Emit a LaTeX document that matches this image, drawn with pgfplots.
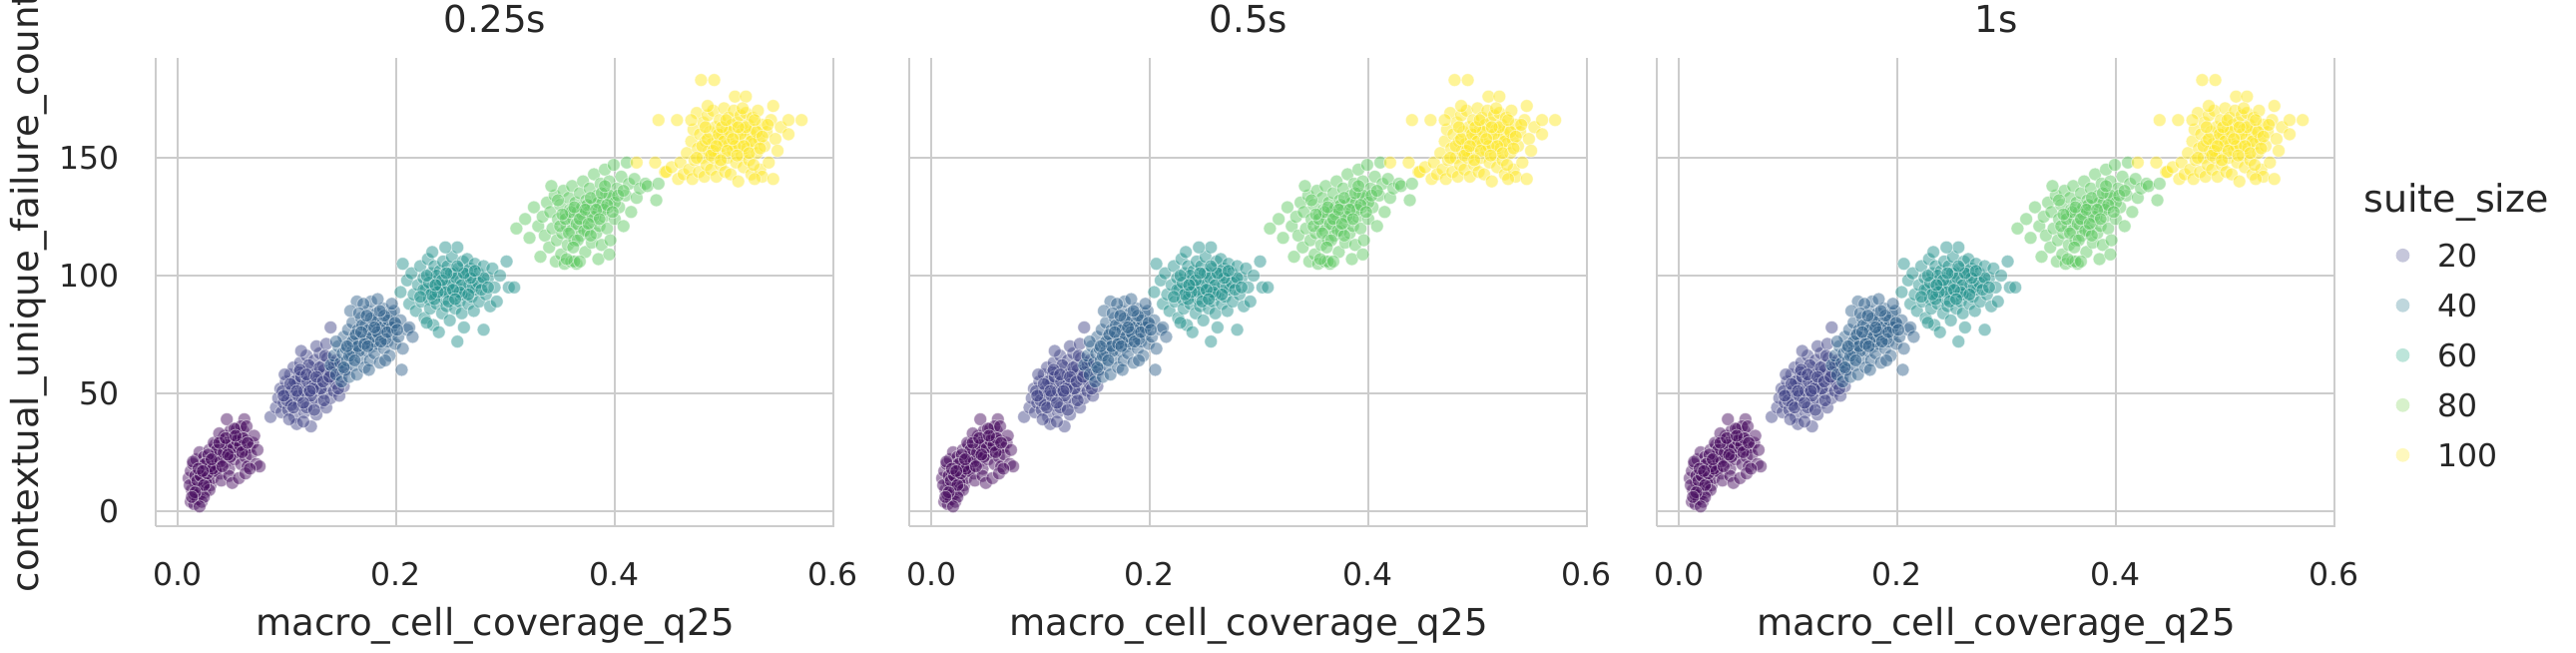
\documentclass[border=0pt]{standalone}
\usepackage{pgfplots}
\pgfplotsset{compat=1.18}
\usepackage{pgfplotstable}
\usepackage{fontspec}
\setmainfont{DejaVu Sans}
\definecolor{txt}{HTML}{262626}
\definecolor{gridc}{HTML}{CCCCCC}
\definecolor{cA}{HTML}{460B5E}
\definecolor{cB}{HTML}{414487}
\definecolor{cC}{HTML}{33638D}
\definecolor{cD}{HTML}{21918C}
\definecolor{cE}{HTML}{5EC962}
\definecolor{cF}{HTML}{FDE725}
\definecolor{lA}{HTML}{414487}
\definecolor{lB}{HTML}{2A788E}
\definecolor{lC}{HTML}{22A884}
\definecolor{lD}{HTML}{7AD151}
\definecolor{lE}{HTML}{FDE725}

\pgfplotstableread{
x y
0.012 4
0.015 3
0.018 5
0.020 7
0.013 9
0.016 12
0.010 14
0.012 17
0.014 20
0.019 16
0.021 10
0.023 13
0.025 8
0.022 19
0.017 22
0.020 25
0.026 18
0.028 15
0.024 23
0.030 11
0.027 21
0.031 17
0.029 26
0.033 20
0.035 24
0.032 14
0.034 28
0.037 19
0.036 22
0.038 26
0.040 30
0.039 16
0.041 23
0.042 27
0.044 21
0.043 32
0.045 25
0.046 29
0.047 18
0.048 34
0.050 24
0.049 28
0.051 31
0.052 22
0.053 27
0.054 35
0.055 30
0.056 25
0.057 32
0.058 20
0.059 28
0.060 34
0.061 26
0.062 23
0.063 30
0.064 19
0.066 27
0.067 24
0.069 29
0.072 20
0.073 26
0.045 39
0.061 39
0.015 7
0.018 10
0.022 4
0.011 11
0.016 15
0.026 12
0.029 9
0.035 17
0.040 13
0.033 29
0.047 15
0.024 6
0.020 2
0.058 36
0.052 35
0.038 33
0.063 36
0.070 32
0.050 12
0.056 14
0.062 16
0.075 19
0.066 18
0.014 21
0.018 13
0.021 15
0.024 11
0.027 16
0.030 19
0.033 23
0.036 26
0.039 21
0.042 25
0.045 28
0.048 23
0.051 27
0.054 30
0.057 28
0.060 31
0.028 24
0.025 20
0.032 18
0.038 29
0.044 31
0.016 8
0.013 6
0.019 18
0.023 17
0.031 22
0.041 19
0.046 24
0.053 32
0.059 25
0.064 29
}\dA
\pgfplotstableread{
x y
0.085 40
0.090 44
0.092 48
0.095 42
0.094 52
0.097 46
0.099 55
0.100 50
0.101 43
0.103 58
0.104 47
0.105 53
0.106 61
0.107 40
0.108 50
0.109 37
0.110 56
0.111 45
0.112 63
0.113 52
0.114 48
0.115 59
0.116 42
0.117 54
0.118 66
0.119 50
0.120 57
0.121 45
0.122 36
0.122 61
0.123 53
0.124 48
0.125 64
0.126 55
0.127 41
0.128 59
0.129 51
0.130 67
0.131 46
0.132 56
0.133 62
0.134 50
0.135 58
0.136 44
0.137 65
0.138 53
0.139 60
0.140 48
0.141 56
0.142 63
0.143 51
0.144 58
0.145 54
0.146 61
0.148 49
0.150 57
0.152 53
0.154 60
0.140 78
0.098 58
0.102 39
0.115 38
0.118 44
0.127 70
0.113 68
0.120 62
0.131 58
0.109 54
0.096 51
0.125 43
0.134 47
0.147 52
0.104 45
0.111 59
0.136 71
0.100 47
0.104 51
0.107 55
0.110 49
0.113 57
0.116 51
0.119 55
0.122 49
0.125 58
0.128 54
0.131 52
0.134 60
0.137 56
0.140 59
0.143 62
0.106 44
0.112 60
0.118 58
0.124 52
0.130 61
0.097 49
0.103 54
0.121 51
0.127 57
0.133 55
0.139 57
0.145 64
0.109 51
0.115 46
0.135 66
}\dB
\pgfplotstableread{
x y
0.140 62
0.143 66
0.145 58
0.147 70
0.149 63
0.150 55
0.151 67
0.152 74
0.153 60
0.154 69
0.155 64
0.156 77
0.157 57
0.158 71
0.159 66
0.160 80
0.161 62
0.162 74
0.163 69
0.164 89
0.164 58
0.165 77
0.166 72
0.167 65
0.168 82
0.169 70
0.170 75
0.171 61
0.172 79
0.173 68
0.174 85
0.175 73
0.176 64
0.177 89
0.177 77
0.178 70
0.179 81
0.180 67
0.181 75
0.182 84
0.183 71
0.184 78
0.185 63
0.186 80
0.187 74
0.188 86
0.189 69
0.190 77
0.191 82
0.192 72
0.193 79
0.194 66
0.195 84
0.196 75
0.198 85
0.199 71
0.200 79
0.202 74
0.204 81
0.206 69
0.205 60
0.210 77
0.212 78
0.215 74
0.158 85
0.170 88
0.145 72
0.183 90
0.160 68
0.175 60
0.190 64
0.166 84
0.180 72
0.196 88
0.152 61
0.160 72
0.163 75
0.166 68
0.169 79
0.172 73
0.175 77
0.178 74
0.181 80
0.184 75
0.187 78
0.190 73
0.193 81
0.196 78
0.165 70
0.171 71
0.177 82
0.183 76
0.189 83
0.157 66
0.162 64
0.168 76
0.174 70
0.180 78
0.186 72
0.192 76
0.199 80
0.155 70
0.173 83
0.185 85
0.201 77
}\dC
\pgfplotstableread{
x y
0.204 93
0.206 105
0.210 98
0.212 88
0.214 101
0.216 92
0.218 85
0.220 96
0.222 104
0.223 89
0.225 99
0.226 82
0.227 94
0.229 107
0.230 90
0.231 86
0.232 101
0.233 95
0.234 79
0.235 104
0.236 92
0.237 88
0.238 98
0.239 76
0.240 102
0.241 94
0.242 84
0.243 106
0.244 90
0.245 99
0.246 87
0.247 104
0.248 93
0.249 81
0.250 97
0.251 108
0.252 91
0.253 101
0.254 86
0.255 95
0.256 112
0.256 72
0.257 103
0.258 89
0.259 98
0.260 84
0.261 106
0.262 78
0.263 93
0.264 100
0.265 107
0.266 88
0.267 96
0.268 103
0.269 91
0.270 99
0.271 85
0.272 105
0.273 94
0.275 101
0.276 89
0.278 97
0.280 77
0.280 104
0.282 92
0.284 99
0.286 87
0.288 103
0.290 95
0.292 89
0.295 100
0.301 106
0.303 95
0.308 95
0.245 112
0.233 110
0.228 80
0.260 92
0.248 96
0.237 100
0.225 94
0.230 97
0.235 90
0.240 96
0.245 93
0.250 101
0.255 99
0.260 96
0.265 102
0.270 95
0.275 97
0.280 99
0.228 100
0.238 93
0.248 89
0.258 93
0.268 99
0.278 94
0.242 98
0.252 94
0.262 101
0.272 102
0.232 92
0.222 91
0.246 101
0.256 104
0.266 92
0.236 96
0.254 90
0.284 95
}\dD
\pgfplotstableread{
x y
0.310 120
0.318 124
0.322 116
0.326 129
0.330 121
0.332 108
0.334 125
0.336 117
0.338 131
0.340 112
0.341 127
0.343 120
0.345 134
0.346 106
0.347 115
0.348 124
0.350 130
0.351 109
0.352 118
0.353 136
0.354 105
0.355 126
0.356 121
0.357 113
0.358 133
0.359 128
0.360 106
0.360 119
0.361 138
0.362 124
0.363 115
0.364 131
0.365 105
0.366 127
0.367 121
0.368 135
0.369 117
0.370 129
0.371 140
0.372 124
0.373 110
0.374 132
0.375 119
0.376 127
0.377 137
0.378 122
0.379 114
0.380 130
0.381 143
0.382 125
0.383 118
0.384 134
0.385 128
0.386 121
0.387 139
0.388 113
0.389 131
0.390 125
0.391 145
0.392 135
0.393 120
0.394 129
0.395 140
0.396 115
0.398 133
0.399 147
0.400 124
0.402 137
0.404 129
0.406 142
0.408 121
0.410 134
0.411 148
0.413 139
0.415 127
0.418 141
0.420 133
0.423 137
0.428 139
0.430 138
0.438 132
0.440 139
0.363 106
0.368 106
0.356 107
0.385 107
0.395 109
0.348 132
0.342 138
0.350 121
0.355 124
0.360 127
0.365 122
0.370 126
0.375 130
0.380 125
0.385 131
0.390 128
0.395 134
0.400 131
0.358 118
0.363 129
0.368 124
0.373 128
0.378 133
0.383 128
0.388 135
0.393 130
0.398 127
0.372 119
0.378 117
0.386 124
0.366 115
0.403 134
0.352 126
0.362 112
0.376 122
0.391 138
0.408 136
}\dE
\pgfplotstableread{
x y
0.420 148
0.437 148
0.440 166
0.446 144
0.447 144
0.452 146
0.457 166
0.458 141
0.460 148
0.463 143
0.466 152
0.468 145
0.470 157
0.471 141
0.472 162
0.473 149
0.475 169
0.476 154
0.477 144
0.478 160
0.479 183
0.480 150
0.481 165
0.482 142
0.483 157
0.484 147
0.485 168
0.486 153
0.487 161
0.488 145
0.489 156
0.490 170
0.491 183
0.491 150
0.492 163
0.493 142
0.494 158
0.495 152
0.496 166
0.497 147
0.498 160
0.499 155
0.500 171
0.501 144
0.502 162
0.503 150
0.504 167
0.505 156
0.506 143
0.507 164
0.508 153
0.509 170
0.510 176
0.510 159
0.511 148
0.512 165
0.513 140
0.514 155
0.515 168
0.516 151
0.517 162
0.518 146
0.519 158
0.520 176
0.520 169
0.521 154
0.522 164
0.523 149
0.524 160
0.525 143
0.526 167
0.527 156
0.528 162
0.530 152
0.531 170
0.532 158
0.533 145
0.535 164
0.537 155
0.539 161
0.541 148
0.543 166
0.545 172
0.547 158
0.549 153
0.552 163
0.559 160
0.559 166
0.571 166
0.535 142
0.545 141
0.528 141
0.470 166
0.485 172
0.480 155
0.485 158
0.490 153
0.495 160
0.500 157
0.505 161
0.510 155
0.515 160
0.520 163
0.525 157
0.530 161
0.535 159
0.488 151
0.493 155
0.498 163
0.503 153
0.508 158
0.513 163
0.518 155
0.523 152
0.528 166
0.533 154
0.483 163
0.497 149
0.512 151
0.527 147
0.540 164
0.475 150
0.517 171
0.502 166
}\dF

\pgfplotsset{
  facet/.style={
    scale only axis, width=238pt, height=164.15pt,
    xmin=-0.0201, xmax=0.601, ymin=-6.36, ymax=192.4,
    xtick={0,0.2,0.4,0.6}, ytick={0,50,100,150},
    axis x line*=bottom, axis y line*=left,
    axis line style={draw=gridc, line width=1pt, -},
    grid=major, major grid style={draw=gridc, line width=0.85pt},
    major tick length=0pt,
    tick label style={font=\fontsize{11}{13}\selectfont, text=txt},
    /pgf/number format/assume math mode=true,
    xticklabel style={anchor=base, yshift=-21pt, /pgf/number format/fixed, /pgf/number format/fixed zerofill, /pgf/number format/precision=1},
    yticklabel style={anchor=east, inner sep=0pt, xshift=-12.6pt},
    xlabel={macro\_cell\_coverage\_q25},
    xlabel style={font=\fontsize{13}{15}\selectfont, text=txt, at={(axis description cs:0.5,-0.2345)}, anchor=base},
    every axis title shift=0pt,
    title style={font=\fontsize{13}{15}\selectfont, text=txt, at={(axis description cs:0.5,1.0533)}, anchor=base},
    clip=false,
  },
  pt/.style={only marks, mark=*, mark size=2.25pt, forget plot,
    mark options={fill=#1, draw=white, line width=0.3pt, fill opacity=0.48, draw opacity=0.48}},
  lg/.style={only marks, mark=*, mark size=2.2pt, draw=#1!30!white, fill=#1!30!white,
    mark options={fill=#1!30!white, draw=#1!30!white}},
}
\newcommand\clusters{%
  \addplot[pt=cA] table {\dA};
  \addplot[pt=cB] table {\dB};
  \addplot[pt=cC] table {\dC};
  \addplot[pt=cD] table {\dD};
  \addplot[pt=cE] table {\dE};
  \addplot[pt=cF] table {\dF};
}

\begin{document}
\begin{tikzpicture}
\begin{axis}[facet, at={(54.6pt,44.45pt)}, anchor=south west, title={0.25s},
  ylabel={contextual\_unique\_failure\_count},
  ylabel style={font=\fontsize{13}{15}\selectfont, text=txt, at={(axis description cs:-0.1721,0.5)}, anchor=base}]
\clusters
\end{axis}
\begin{axis}[facet, at={(318.85pt,44.45pt)}, anchor=south west, title={0.5s}, yticklabels={}]
\clusters
\end{axis}
\begin{axis}[facet, at={(581pt,44.45pt)}, anchor=south west, title={1s}, yticklabels={},
  legend cell align=left,
  legend style={at={(axis description cs:1.0765,0.616)}, anchor=north west, draw=none, fill=none,
    font=\fontsize{11}{13}\selectfont, text=txt, row sep=9.5pt, column sep=10.2pt,
    nodes={inner sep=0pt, text height=8pt, text depth=0pt}}]
\clusters
\addlegendimage{lg=lA}
\addlegendentry{20}
\addlegendimage{lg=lB}
\addlegendentry{40}
\addlegendimage{lg=lC}
\addlegendentry{60}
\addlegendimage{lg=lD}
\addlegendentry{80}
\addlegendimage{lg=lE}
\addlegendentry{100}
\node[anchor=base, font=\fontsize{13.3}{15}\selectfont, text=txt] at (axis description cs:1.178,0.6695) {suite\_size};
\end{axis}
\pgfresetboundingbox
\path[use as bounding box] (0,0) rectangle (903.35pt,228.9pt);
\end{tikzpicture}
\end{document}
